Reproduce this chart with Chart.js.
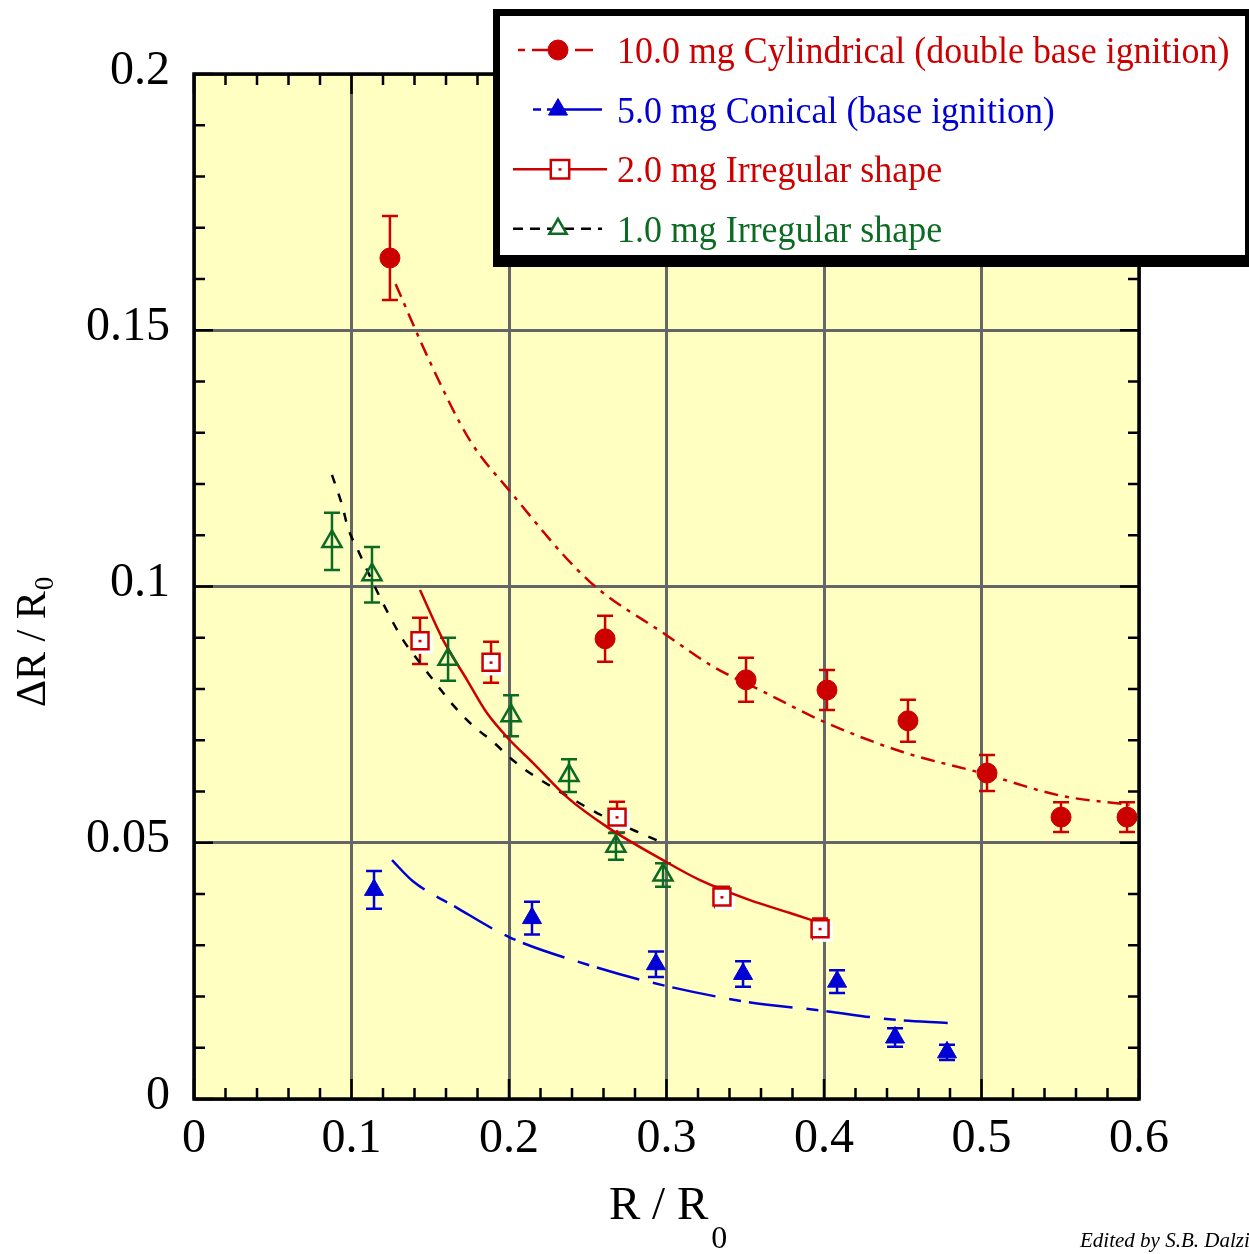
<!DOCTYPE html>
<html>
<head>
<meta charset="utf-8">
<script src="https://cdn.jsdelivr.net/npm/chart.js@4.4.1/dist/chart.umd.min.js"></script>
<style>
  html, body { margin: 0; padding: 0; background: #fff; }
  canvas { display: block; }
</style>
</head>
<body>
<canvas id="mychart" width="1249" height="1254" style="width:1249px;height:1254px"></canvas>
<script>
// ---- data ----
var legendLabels = [
  "10.0 mg Cylindrical (double base ignition)",
  "5.0 mg Conical (base ignition)",
  "2.0 mg Irregular shape",
  "1.0 mg Irregular shape"
];
var xTickLabels = ["0", "0.1", "0.2", "0.3", "0.4", "0.5", "0.6"];
var yTickLabels = ["0", "0.05", "0.1", "0.15", "0.2"];

// 10.0 mg cylindrical, measured points + error
var cylX = [0.1244, 0.261, 0.3505, 0.4019, 0.4533, 0.5035, 0.5505, 0.5924];
var cylY = [0.1641, 0.0898, 0.0818, 0.0798, 0.0738, 0.0636, 0.0550, 0.0550];
var cylErr = [0.0082, 0.0045, 0.0043, 0.0039, 0.0041, 0.0035, 0.0029, 0.0029];
// 5.0 mg conical
var coneX = [0.1143, 0.2146, 0.2933, 0.3486, 0.4083, 0.4451, 0.4781];
var coneY = [0.0408, 0.0353, 0.0263, 0.0244, 0.0229, 0.0120, 0.0091];
var coneErr = [0.0037, 0.0032, 0.0025, 0.0025, 0.0022, 0.0018, 0.0015];
// 2.0 mg irregular
var irr2X = [0.1435, 0.1886, 0.2686, 0.3352, 0.3975];
var irr2Y = [0.0894, 0.0852, 0.0550, 0.0394, 0.0332];
var irr2Err = [0.0045, 0.0040, 0.0030, 0.0020, 0.0020];
// 1.0 mg irregular
var irr1X = [0.0876, 0.1130, 0.1613, 0.2013, 0.2381, 0.2679, 0.2978];
var irr1Y = [0.1088, 0.1023, 0.0858, 0.0748, 0.0631, 0.0493, 0.0437];
var irr1Err = [0.0056, 0.0054, 0.0042, 0.0040, 0.0032, 0.0026, 0.0023];

// fitted curves (traced)
var cylFitX = [0.128, 0.15, 0.175, 0.2, 0.25, 0.3, 0.33, 0.36, 0.4, 0.45, 0.5, 0.55, 0.594];
var cylFitY = [0.159, 0.1437, 0.1286, 0.1188, 0.1013, 0.0905, 0.0843, 0.0797, 0.0736, 0.0677, 0.0636, 0.0592, 0.0574];
var coneFitX = [0.1257, 0.139, 0.167, 0.2, 0.25, 0.2895, 0.35, 0.4, 0.44, 0.4806];
var coneFitY = [0.0466, 0.0425, 0.0373, 0.0316, 0.0262, 0.0228, 0.0190, 0.0172, 0.0156, 0.0148];
var irr2FitX = [0.1435, 0.1581, 0.1733, 0.186, 0.2006, 0.2152, 0.2368, 0.2622, 0.2978, 0.3213, 0.353, 0.3784, 0.3962];
var irr2FitY = [0.0993, 0.0896, 0.0818, 0.0753, 0.0700, 0.0656, 0.0589, 0.0531, 0.0466, 0.0427, 0.0388, 0.0363, 0.0345];
var irr1FitX = [0.0876, 0.094, 0.0978, 0.1041, 0.1181, 0.1327, 0.1435, 0.1543, 0.1644, 0.1765, 0.1898, 0.2025, 0.2152, 0.2305, 0.2432, 0.2559, 0.2832, 0.2978];
var irr1FitY = [0.1218, 0.1159, 0.1114, 0.1071, 0.0979, 0.0896, 0.0851, 0.0808, 0.0769, 0.0730, 0.0697, 0.0661, 0.0632, 0.0603, 0.0580, 0.0558, 0.0519, 0.0500];

var RED = "#CC0000", BLUE = "#0000D4", GREEN = "#0B6B22", BLACK = "#000000";
var PLOT_BG = "#FFFFC2";
var SERIF = "'Liberation Serif', 'Times New Roman', serif";

function pts(xs, ys) {
  return xs.map(function (x, i) { return { x: x, y: ys[i] }; });
}

var datasets = [
  { label: legendLabels[0], data: pts(cylX, cylY), errs: cylErr, showLine: false,
    pointStyle: "circle", pointRadius: 10, pointBackgroundColor: RED, pointBorderColor: RED, pointBorderWidth: 1 },
  { label: legendLabels[1], data: pts(coneX, coneY), errs: coneErr, showLine: false,
    pointStyle: "triangle", pointRadius: 11, pointBackgroundColor: BLUE, pointBorderColor: BLUE, pointBorderWidth: 1 },
  { label: legendLabels[2], data: pts(irr2X, irr2Y), errs: irr2Err, showLine: false, squareMark: true,
    pointStyle: "rect", pointRadius: 12, pointBackgroundColor: "#ffffff", pointBorderColor: RED, pointBorderWidth: 2.5 },
  { label: legendLabels[3], data: pts(irr1X, irr1Y), errs: irr1Err, showLine: false,
    pointStyle: "triangle", pointRadius: 11, pointBackgroundColor: "rgba(0,0,0,0)", pointBorderColor: GREEN, pointBorderWidth: 2.5 },
  // curves
  { data: pts(cylFitX, cylFitY), showLine: true, pointRadius: 0, borderColor: RED, borderWidth: 2.5,
    borderDash: [14, 7, 4, 7], cubicInterpolationMode: "monotone", fill: false },
  { data: pts(coneFitX, coneFitY), showLine: true, pointRadius: 0, borderColor: BLUE, borderWidth: 2.5,
    borderDash: [44, 14, 12, 8], cubicInterpolationMode: "monotone", fill: false },
  { data: pts(irr2FitX, irr2FitY), showLine: true, pointRadius: 0, borderColor: RED, borderWidth: 2.5,
    cubicInterpolationMode: "monotone", fill: false },
  { data: pts(irr1FitX, irr1FitY), showLine: true, pointRadius: 0, borderColor: BLACK, borderWidth: 2.5,
    borderDash: [9, 11], cubicInterpolationMode: "monotone", fill: false }
];

// legend sample line dashes, same order as legendLabels
var legendDash = [[7, 7, 23, 20, 18], [8, 6, 200], [], [10, 7]];
var legendColors = [RED, BLUE, RED, GREEN];
var legendLineColors = [RED, BLUE, RED, BLACK];

function drawMarker(c, style, x, y, r, fill, stroke, lw) {
  c.save();
  c.fillStyle = fill; c.strokeStyle = stroke; c.lineWidth = lw;
  c.beginPath();
  if (style === "circle") {
    c.arc(x, y, r, 0, Math.PI * 2);
  } else if (style === "triangle") {
    c.moveTo(x, y - r);
    c.lineTo(x + r * 0.866, y + r / 2);
    c.lineTo(x - r * 0.866, y + r / 2);
    c.closePath();
  } else {
    var s = r * Math.SQRT1_2;
    c.rect(x - s, y - s, 2 * s, 2 * s);
  }
  c.fill(); c.stroke();
  c.restore();
}

var decor = {
  id: "decor",
  beforeDraw: function (chart) {
    var a = chart.chartArea, c = chart.ctx;
    c.save();
    c.fillStyle = PLOT_BG;
    c.fillRect(a.left, a.top, a.right - a.left, a.bottom - a.top);
    c.restore();
  },
  beforeDatasetsDraw: function (chart) {
    var c = chart.ctx, ys = chart.scales.y;
    chart.data.datasets.forEach(function (ds, i) {
      if (!ds.errs) return;
      var meta = chart.getDatasetMeta(i);
      c.save();
      c.strokeStyle = ds.pointBorderColor;
      c.lineWidth = 2.5;
      meta.data.forEach(function (p, j) {
        var v = ds.data[j].y, e = ds.errs[j];
        var t = ys.getPixelForValue(v + e), b = ys.getPixelForValue(v - e);
        c.beginPath();
        c.moveTo(p.x, t); c.lineTo(p.x, b);
        c.moveTo(p.x - 8, t); c.lineTo(p.x + 8, t);
        c.moveTo(p.x - 8, b); c.lineTo(p.x + 8, b);
        c.stroke();
        if (ds.squareMark) {
          // white shadow behind the square markers
          c.fillStyle = "#ffffff";
          c.fillRect(p.x - 7, p.y - 7, 20, 20);
        }
      });
      c.restore();
    });
  },
  afterDatasetsDraw: function (chart) {
    var c = chart.ctx, a = chart.chartArea;
    var xs = chart.scales.x, ys = chart.scales.y;
    // little dot inside the squares
    chart.data.datasets.forEach(function (ds, i) {
      if (!ds.squareMark) return;
      c.save();
      c.fillStyle = RED;
      chart.getDatasetMeta(i).data.forEach(function (p) { c.fillRect(p.x - 1.5, p.y - 1, 3, 2.5); });
      c.restore();
    });

    c.save();
    c.strokeStyle = BLACK;
    c.lineWidth = 2.5;
    c.beginPath();
    // inward ticks, x: minor every 0.02
    for (var k = 0; k <= 30; k++) {
      var px = xs.getPixelForValue(k * 0.02);
      var len = (k % 5 === 0) ? 20 : 11;
      c.moveTo(px, a.bottom); c.lineTo(px, a.bottom - len);
      c.moveTo(px, a.top); c.lineTo(px, a.top + len);
    }
    // y: minor every 0.01
    for (var m = 0; m <= 20; m++) {
      var py = ys.getPixelForValue(m * 0.01);
      var ln = (m % 5 === 0) ? 19 : 11;
      c.moveTo(a.left, py); c.lineTo(a.left + ln, py);
      c.moveTo(a.right, py); c.lineTo(a.right - ln, py);
    }
    c.stroke();
    c.lineWidth = 3.5;
    c.strokeRect(a.left, a.top, a.right - a.left, a.bottom - a.top);
    c.restore();
  },
  afterDraw: function (chart) {
    var c = chart.ctx;
    c.save();
    // legend box with shadow
    c.fillStyle = BLACK;
    c.fillRect(493, 9, 760, 258);
    c.fillStyle = "#ffffff";
    c.fillRect(500, 16, 745, 239);

    var markers = [
      { s: "circle", r: 10, f: RED, k: RED, lw: 1, x: 558 },
      { s: "triangle", r: 11, f: BLUE, k: BLUE, lw: 1, x: 558 },
      { s: "rect", r: 13, f: "#ffffff", k: RED, lw: 2.5, x: 560 },
      { s: "triangle", r: 10, f: "#ffffff", k: GREEN, lw: 2.5, x: 558 }
    ];
    var lineStart = [518, 533, 513, 513], lineEnd = [593, 602, 607, 602];
    for (var i = 0; i < legendLabels.length; i++) {
      var base = 63 + i * 59.6;
      var ly = base - 13;
      c.strokeStyle = legendLineColors[i];
      c.lineWidth = 2.5;
      c.setLineDash(legendDash[i]);
      c.beginPath(); c.moveTo(lineStart[i], ly); c.lineTo(lineEnd[i], ly); c.stroke();
      c.setLineDash([]);
      var mk = markers[i];
      drawMarker(c, mk.s, mk.x, ly, mk.r, mk.f, mk.k, mk.lw);
      if (mk.s === "rect") { c.fillStyle = RED; c.fillRect(mk.x - 1.5, ly - 1, 3, 2.5); }
      c.save();
      c.translate(617, base);
      c.scale(0.945, 1);
      c.fillStyle = legendColors[i];
      c.font = "38px " + SERIF;
      c.textAlign = "left";
      c.textBaseline = "alphabetic";
      c.fillText(legendLabels[i], 0, 0);
      c.restore();
    }

    // x axis title R / R0
    c.fillStyle = BLACK;
    c.textBaseline = "alphabetic";
    c.textAlign = "left";
    c.font = "47px " + SERIF;
    c.fillText("R / R", 609, 1219);
    var w = c.measureText("R / R").width;
    c.font = "32px " + SERIF;
    c.fillText("0", 609 + w + 3, 1248);

    // y axis title ΔR / R0
    c.save();
    c.translate(45, 707);
    c.rotate(-Math.PI / 2);
    c.font = "42px " + SERIF;
    c.fillText("\u0394R / R", 0, 0);
    var w2 = c.measureText("\u0394R / R").width;
    c.font = "27px " + SERIF;
    c.fillText("0", w2 + 1, 8);
    c.restore();

    // credit
    c.font = "italic 21px " + SERIF;
    c.fillText("Edited by S.B. Dalziel", 1080, 1247);
    c.restore();
  }
};

var ctx = document.getElementById("mychart");
var myChart = new Chart(ctx, {
  type: "scatter",
  data: { datasets: datasets },
  options: {
    responsive: false,
    animation: false,
    devicePixelRatio: 1,
    layout: { padding: { left: 0, top: 74, right: 110, bottom: 0 } },
    plugins: { legend: { display: false }, tooltip: { enabled: false } },
    scales: {
      x: {
        type: "linear", min: 0, max: 0.6,
        grid: { color: "#666666", lineWidth: 3, drawTicks: false },
        border: { display: false },
        ticks: {
          stepSize: 0.1, autoSkip: false, maxRotation: 0, padding: 12,
          color: BLACK, font: { family: SERIF, size: 48 },
          callback: function (v, i) { return xTickLabels[i]; }
        },
        afterFit: function (s) { s.height = 155; }
      },
      y: {
        type: "linear", min: 0, max: 0.2,
        grid: { color: "#666666", lineWidth: 3, drawTicks: false },
        border: { display: false },
        ticks: {
          stepSize: 0.05, autoSkip: false, padding: 24, labelOffset: -3,
          color: BLACK, font: { family: SERIF, size: 48 },
          callback: function (v, i) { return yTickLabels[i]; }
        },
        afterFit: function (s) { s.width = 194; }
      }
    }
  },
  plugins: [decor]
});
</script>
</body>
</html>
